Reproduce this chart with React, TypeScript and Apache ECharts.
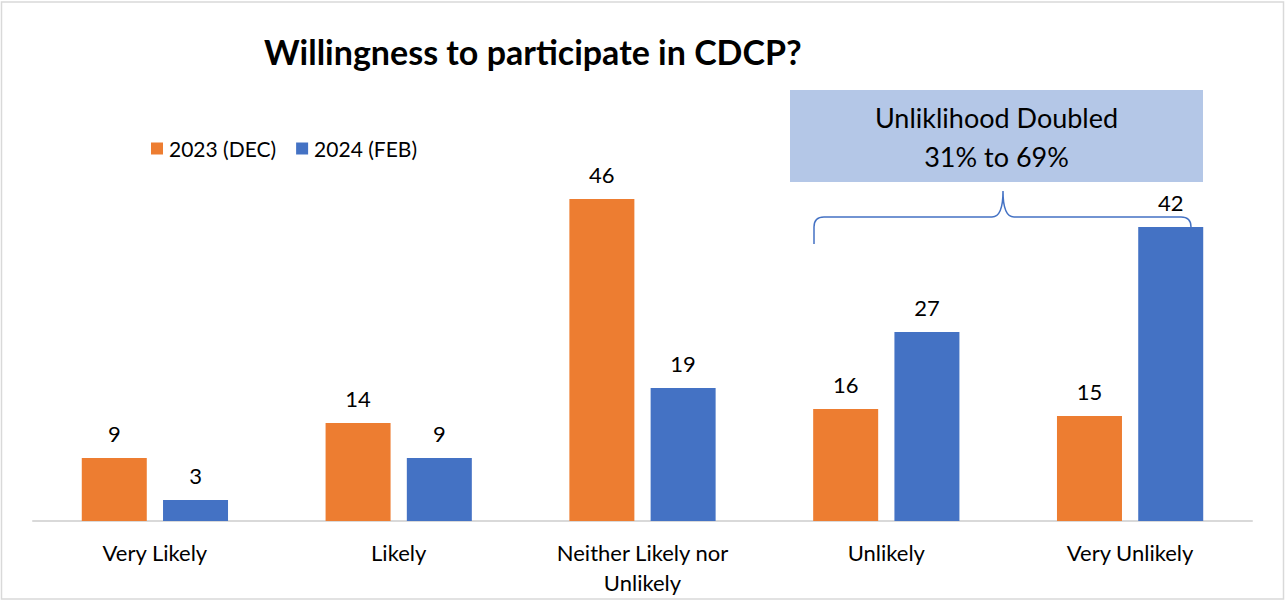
import React, { useEffect, useRef } from "react";
import * as echarts from "echarts";

const categories = ["Very Likely", "Likely", "Neither Likely nor Unlikely", "Unlikely", "Very Unlikely"];
const seriesNames = ["2023 (DEC)", "2024 (FEB)"];
const values2023 = [9, 14, 46, 16, 15];
const values2024 = [3, 9, 19, 27, 42];
const titleText = "Willingness to participate in CDCP?";
const noteLines = ["Unliklihood Doubled", "31% to 69%"];

const FONT = "Lato";

const braceD =
  "M814,244 L814,227 Q814,217 824,217 L992,217 Q1003,217 1003,191 Q1003,217 1014,217 L1181,217 Q1191,217 1191,227";

export default function App() {
  const ref = useRef<HTMLDivElement>(null);
  useEffect(() => {
    document.body.style.margin = "0";
    if (!ref.current) return;
    echarts.graphic.registerShape("brace", echarts.graphic.extendPath(braceD, {}));
    const chart = echarts.init(ref.current, null, { renderer: "svg" });
    const labelStyle = {
      show: true,
      position: "top" as const,
      distance: 14,
      color: "#000",
      fontFamily: FONT,
      fontSize: 22,
    };
    chart.setOption({
      animation: false,
      backgroundColor: "#fff",
      title: {
        text: titleText,
        left: 259,
        top: 29,
        textStyle: { fontFamily: FONT, fontWeight: "bold", fontSize: 34, color: "#000" },
      },
      legend: {
        left: 146,
        top: 133,
        icon: "rect",
        itemWidth: 12,
        itemHeight: 12,
        itemGap: 20,
        textStyle: { fontFamily: FONT, fontSize: 21, color: "#000", padding: [0, 0, 0, 1] },
        data: seriesNames,
      },
      grid: { left: 33, right: 33, top: 171, bottom: 81, containLabel: false },
      xAxis: {
        type: "category",
        data: categories,
        axisLine: { lineStyle: { color: "#d9d9d9", width: 2 } },
        axisTick: { show: false },
        axisLabel: {
          color: "#000",
          fontFamily: FONT,
          fontSize: 22,
          margin: 16,
          lineHeight: 30,
          interval: 0,
          formatter: (v: string) => (v === "Neither Likely nor Unlikely" ? "Neither Likely nor\nUnlikely" : v),
        },
      },
      yAxis: { type: "value", min: 0, max: 50, show: false, splitLine: { show: false } },
      series: [
        {
          name: seriesNames[0],
          type: "bar",
          data: values2023,
          barWidth: 65,
          barGap: "25%",
          itemStyle: { color: "#ed7d31" },
          label: labelStyle,
        },
        {
          name: seriesNames[1],
          type: "bar",
          data: values2024,
          barWidth: 65,
          barGap: "25%",
          itemStyle: { color: "#4472c4" },
          label: labelStyle,
        },
      ],
      graphic: [
        {
          type: "rect",
          shape: { x: 1.5, y: 2, width: 1282, height: 597 },
          style: { fill: "none", stroke: "#d9d9d9", lineWidth: 1.5 },
          silent: true,
        },
        {
          type: "rect",
          shape: { x: 790, y: 90, width: 413, height: 92 },
          style: { fill: "#b4c7e7" },
        },
        {
          type: "text",
          x: 996.5,
          y: 137,
          style: {
            text: noteLines.join("\n"),
            fontFamily: FONT,
            fontSize: 27,
            lineHeight: 39,
            fill: "#000",
            align: "center",
            verticalAlign: "middle",
          },
        },
        {
          type: "brace",
          x: 0,
          y: 0,
          style: { fill: "none", stroke: "#4472c4", lineWidth: 1.5 },
        },
      ],
    });
    return () => chart.dispose();
  }, []);
  return <div ref={ref} style={{ width: 1285, height: 602 }} />;
}
